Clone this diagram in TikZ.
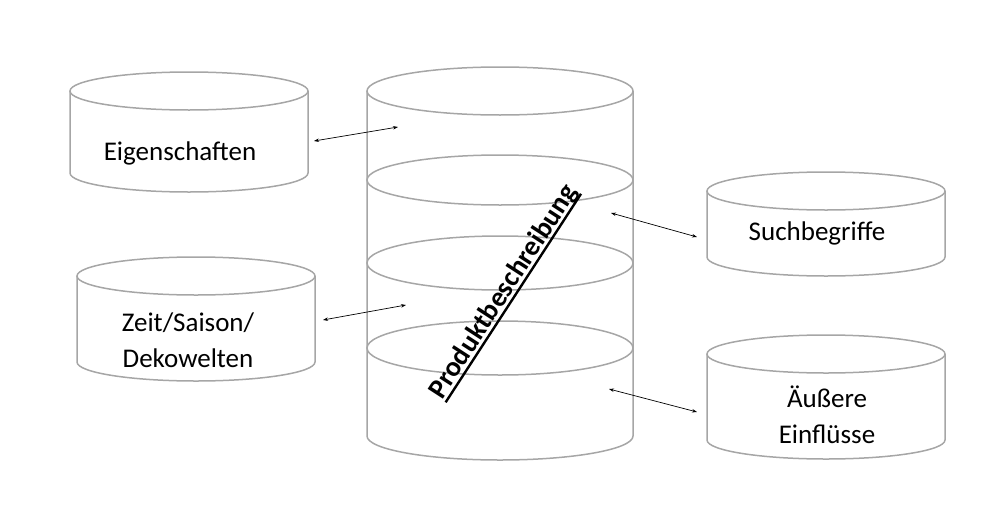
\documentclass[tikz,border=0pt]{standalone}
\usepackage{fontspec}
\setmainfont{Carlito}
\usetikzlibrary{arrows.meta}
\definecolor{cylgray}{RGB}{166,166,166}
\newcommand\mycyl[5]{% x1, x2, y top centre, y bottom centre, ry
  \draw[cyl] ({(#1+#2)/2},#3) ellipse [x radius={(#2-#1)/2*1pt}, y radius=#5pt];
  \draw[cyl] (#1,#3) -- (#1,#4) arc[start angle=180, end angle=360, x radius={(#2-#1)/2*1pt}, y radius=#5pt] -- (#2,#3);
}
\newcommand\myuline[1]{{\sbox0{#1}\rlap{\rule[-5pt]{\wd0}{2.4pt}}\usebox0}}
\begin{document}
\begin{tikzpicture}[x=1pt,y=-1pt,
  cyl/.style={draw=cylgray, line width=1.5pt},
  lbl/.style={font=\fontsize{27}{36}\selectfont, align=center, inner sep=0pt},
  link/.style={{Stealth[length=5pt,width=3.5pt]}-{Stealth[length=5pt,width=3.5pt]}, line width=0.7pt, black}]
\useasboundingbox (0,0) rectangle (998,514);
% small cylinders
\mycyl{70}{308}{91}{173}{19}
\mycyl{707}{945}{191}{257}{19}
\mycyl{77}{315}{276}{362}{19}
\mycyl{707}{945}{354}{440}{19}
% big cylinder
\mycyl{367}{633}{91}{436}{24}
\draw[cyl] (500,180) ellipse [x radius=133pt, y radius=25pt];
\draw[cyl] (500,263) ellipse [x radius=133pt, y radius=27pt];
\draw[cyl] (500,348) ellipse [x radius=133pt, y radius=27pt];
% labels
\node[lbl] (eig) at (180,153) {Eigenschaften};
\node[lbl] (such) at (817,233) {Suchbegriffe};
\node[lbl] (zeit) at (188,340) {Zeit/Saison/\\Dekowelten};
\node[lbl] (aus) at (827,415) {Äußere\\Einflüsse};
\node[lbl, font=\fontsize{28}{32}\selectfont\bfseries, rotate=57] (prod) at (504,292) {\myuline{Produktbeschreibung}};
% arrow end points
\coordinate (a1) at (314,141); \coordinate (b1) at (398,127);
\coordinate (a2) at (611,213); \coordinate (b2) at (697,237);
\coordinate (a3) at (323,320); \coordinate (b3) at (406,305);
\coordinate (a4) at (609,389); \coordinate (b4) at (697,412);
\draw[link] (a1) -- (b1);
\draw[link] (a2) -- (b2);
\draw[link] (a3) -- (b3);
\draw[link] (a4) -- (b4);
\end{tikzpicture}
\end{document}
